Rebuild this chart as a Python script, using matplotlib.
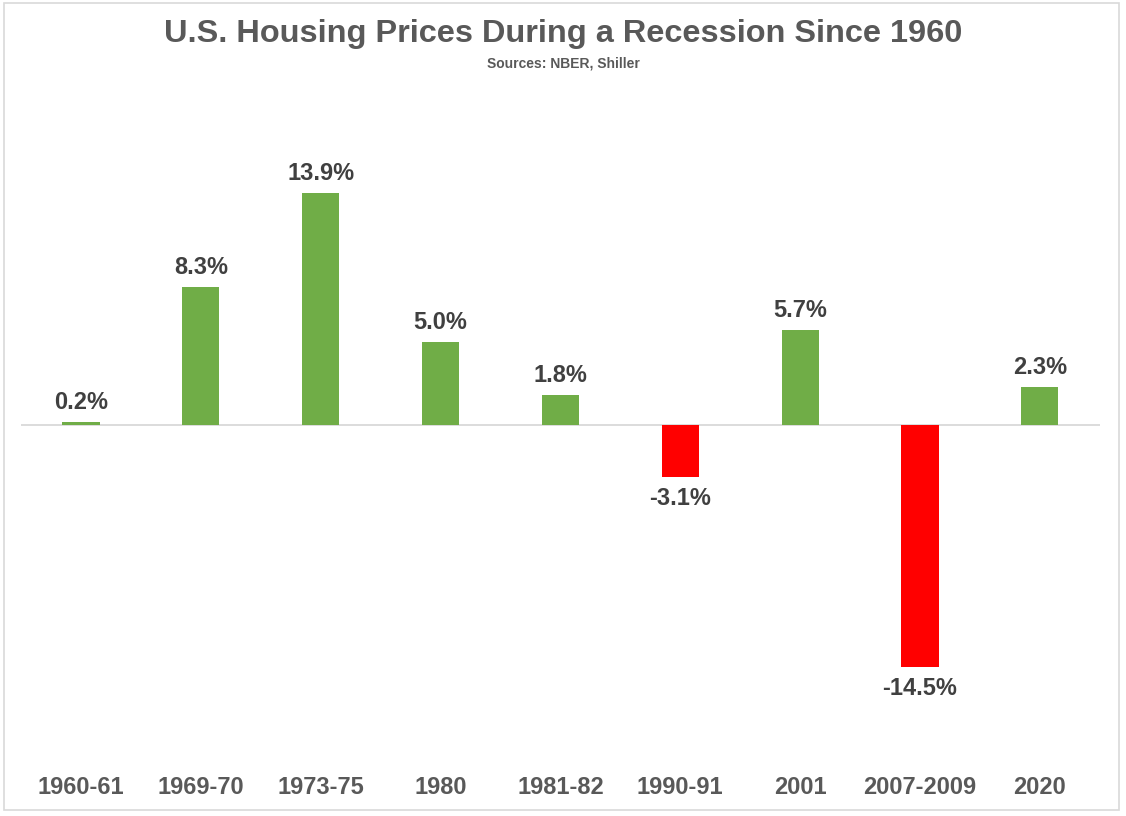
import matplotlib
matplotlib.use("Agg")
import matplotlib.pyplot as plt
from matplotlib.patches import Rectangle
import matplotlib.transforms as mtransforms

# --- DATI ---
periodi = ["1960-61", "1969-70", "1973-75", "1980", "1981-82",
           "1990-91", "2001", "2007-2009", "2020"]
variazioni = [0.2, 8.3, 13.9, 5.0, 1.8, -3.1, 5.7, -14.5, 2.3]

plt.rcParams['font.family'] = ['Liberation Sans', 'DejaVu Sans']

VERDE = '#70AD47'
ROSSO = '#FF0000'
GRIGIO_TITOLO = '#595959'
GRIGIO_ETICHETTE = '#404040'

fig = plt.figure(figsize=(11.26, 8.16), dpi=100)
ax = fig.add_axes([0.0187, 0.0809, 0.958, 0.7966])

x = list(range(len(periodi)))
colori = [VERDE if v >= 0 else ROSSO for v in variazioni]
ax.bar(x, variazioni, width=0.31, color=colori, zorder=3)

ax.axhline(0, color='#D9D9D9', linewidth=1.3, zorder=2)
ax.set_xlim(-0.5, len(periodi) - 0.5)
ax.set_ylim(-19.5, 19.5)
ax.axis('off')

# etichette dei valori
for xi, v in zip(x, variazioni):
    if v >= 0:
        ax.annotate(f"{v:.1f}%", (xi, v), xytext=(0, 14), textcoords='offset points',
                    ha='center', va='center', fontsize=17, fontweight='bold',
                    color=GRIGIO_ETICHETTE)
    else:
        ax.annotate(f"{v:.1f}%", (xi, v), xytext=(0, -16), textcoords='offset points',
                    ha='center', va='center', fontsize=17, fontweight='bold',
                    color=GRIGIO_ETICHETTE)

# etichette delle categorie
trans = mtransforms.blended_transform_factory(ax.transData, fig.transFigure)
for xi, p in zip(x, periodi):
    ax.text(xi, 1 - 788 / 816, p, transform=trans, ha='center', va='center',
            fontsize=17, fontweight='bold', color=GRIGIO_TITOLO)

fig.text(0.5, 1 - 34 / 816, "U.S. Housing Prices During a Recession Since 1960",
         ha='center', va='center', fontsize=23.4, fontweight='bold', color=GRIGIO_TITOLO)
fig.text(0.5, 1 - 63 / 816, "Sources: NBER, Shiller",
         ha='center', va='center', fontsize=10, fontweight='bold', color=GRIGIO_TITOLO)

# bordo
fig.patches.append(Rectangle((4 / 1126, 1 - 810 / 816), 1115 / 1126, 807 / 816,
                             transform=fig.transFigure, fill=False,
                             edgecolor='#D9D9D9', linewidth=1.2))

fig.savefig("out.png", dpi=100, facecolor='white')
